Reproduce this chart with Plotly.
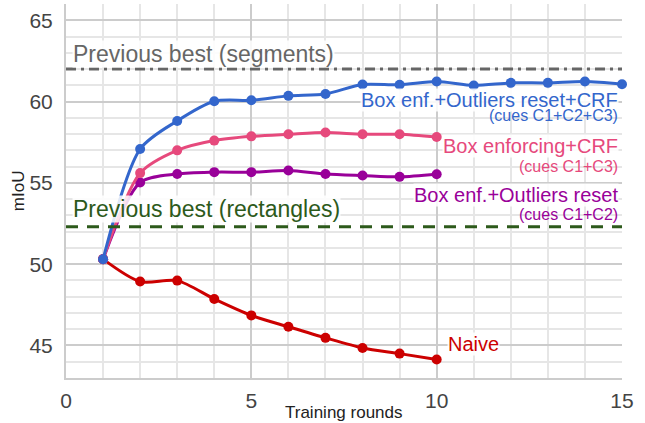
import plotly.graph_objects as go

rounds_long = [1, 2, 3, 4, 5, 6, 7, 8, 9, 10, 11, 12, 13, 14, 15]
rounds_short = [1, 2, 3, 4, 5, 6, 7, 8, 9, 10]

box_outliers_crf = [50.3, 57.08, 58.81, 60.02, 60.08, 60.35, 60.47, 61.05, 61.03, 61.23, 60.99, 61.15, 61.15, 61.23, 61.07]
box_crf = [50.3, 55.6, 57.0, 57.6, 57.86, 57.99, 58.1, 57.99, 57.99, 57.82]
box_outliers = [50.3, 55.02, 55.55, 55.66, 55.66, 55.76, 55.55, 55.45, 55.37, 55.53]
naive = [50.31, 48.93, 48.99, 47.86, 46.85, 46.15, 45.47, 44.85, 44.5, 44.14]

prev_best_segments = 62.0
prev_best_rectangles = 52.3

x_ticks = [0, 5, 10, 15]
y_ticks = [45, 50, 55, 60, 65]

BLUE = "#3366cc"
PINK = "#e6497c"
PURPLE = "#990099"
RED = "#cc0000"
GREEN = "#2d5a1b"
GRAY = "#666666"
FONT = "Liberation Sans"

fig = go.Figure()

fig.add_hline(y=prev_best_segments, line=dict(color=GRAY, width=3, dash="10px,5px,3px,5px"), layer="above")
fig.add_hline(y=prev_best_rectangles, line=dict(color=GREEN, width=3, dash="12px,9px"), layer="above")

series = [
    (rounds_short, naive, RED),
    (rounds_short, box_outliers, PURPLE),
    (rounds_short, box_crf, PINK),
    (rounds_long, box_outliers_crf, BLUE),
]
for xs, ys, c in series:
    fig.add_trace(go.Scatter(
        x=xs, y=ys, mode="lines+markers", cliponaxis=False,
        line=dict(color=c, width=3, shape="spline", smoothing=0.8),
        marker=dict(color=c, size=10),
        showlegend=False, hoverinfo="skip",
    ))

def label(text, x, y, color, size, anchor="right", bg="rgba(255,255,255,0.85)"):
    fig.add_annotation(text=text, x=x, y=y, xref="x", yref="y", showarrow=False,
                       xanchor=anchor, yanchor="middle", bgcolor=bg,
                       borderpad=0, font=dict(family=FONT, size=size, color=color))

label("Previous best (segments)", 0.16, 62.93, GRAY, 23, "left")
label("Previous best (rectangles)", 0.16, 53.39, GREEN, 23, "left")
label("Box enf.+Outliers reset+CRF", 14.92, 60.11, BLUE, 20)
label("(cues C1+C2+C3)", 14.92, 59.12, BLUE, 16, bg="rgba(0,0,0,0)")
label("Box enforcing+CRF", 14.92, 57.25, PINK, 20)
label("(cues C1+C3)", 14.92, 56.01, PINK, 16, bg="rgba(0,0,0,0)")
label("Box enf.+Outliers reset", 14.92, 54.27, PURPLE, 20)
label("(cues C1+C2)", 14.92, 53.03, PURPLE, 16, bg="rgba(0,0,0,0)")
label("Naive", 10.28, 45.09, RED, 20, "left")

fig.add_annotation(text="Training rounds", x=0.5, y=-0.091, xref="paper", yref="paper",
                   showarrow=False, xanchor="center", yanchor="middle",
                   font=dict(family=FONT, size=17, color="#222222"))
fig.add_annotation(text="mIoU", x=-0.086, y=0.5, xref="paper", yref="paper", textangle=-90,
                   showarrow=False, xanchor="center", yanchor="middle",
                   font=dict(family=FONT, size=17, color="#222222"))

fig.update_xaxes(range=[0, 15], tickvals=x_ticks, ticks="", showgrid=True, gridcolor="#cccccc",
                 gridwidth=1.5, zeroline=False, showline=True, linecolor="#cccccc", linewidth=2,
                 tickfont=dict(family=FONT, size=21, color="#444444"), ticklabelstandoff=3,
                 automargin=False,
                 minor=dict(dtick=1, showgrid=True, gridcolor="#e6e6e6", gridwidth=1.5))
fig.update_yaxes(range=[43, 66], tickvals=y_ticks, ticks="", showgrid=True, gridcolor="#cccccc",
                 gridwidth=1.5, zeroline=False, showline=True, linecolor="#cccccc", linewidth=2,
                 tickfont=dict(family=FONT, size=21, color="#444444"), ticklabelstandoff=7,
                 automargin=False,
                 minor=dict(dtick=1, showgrid=True, gridcolor="#e6e6e6", gridwidth=1.5))

fig.update_layout(width=645, height=423, margin=dict(l=66, r=23, t=4, b=45),
                  plot_bgcolor="white", paper_bgcolor="white", hovermode=False,
                  font=dict(family=FONT))
fig.write_html("out.html", config={"displayModeBar": False},
               post_script="document.body.style.margin='0px';")
